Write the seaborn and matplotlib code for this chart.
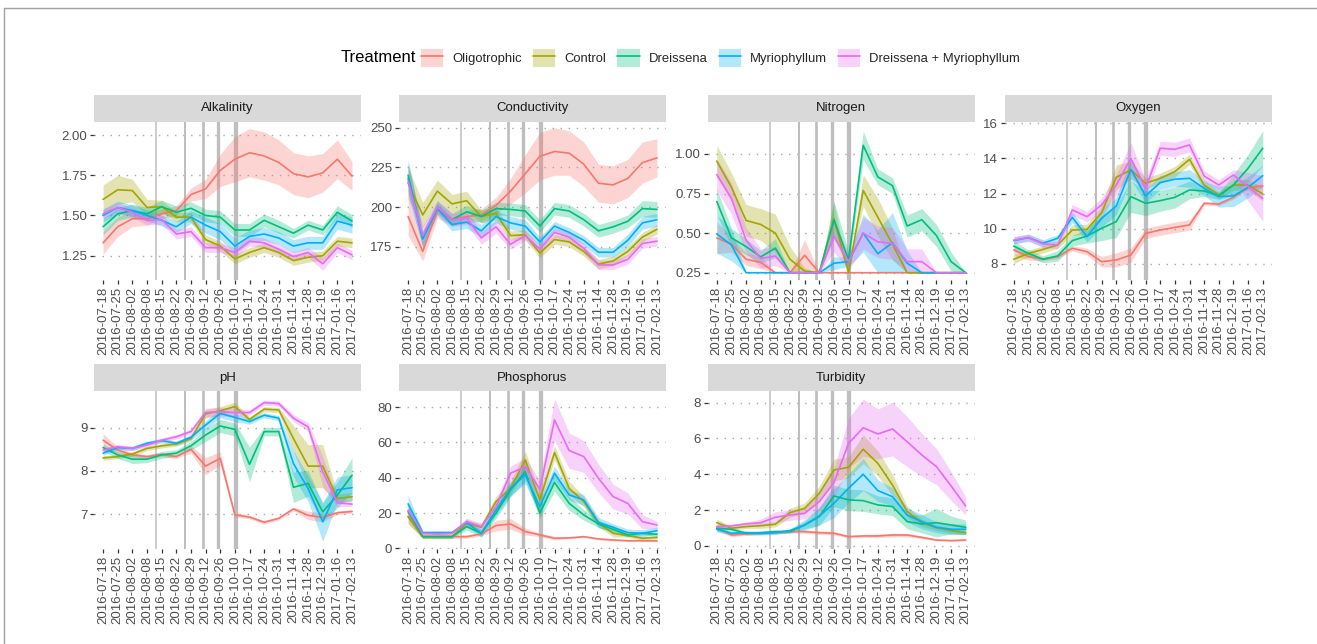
import numpy as np
import pandas as pd
import seaborn as sns
import matplotlib.pyplot as plt
from matplotlib.patches import Rectangle, Patch
from matplotlib.lines import Line2D

# sampling dates (plotted as evenly spaced categories)
dates = ["2016-07-18", "2016-07-25", "2016-08-02", "2016-08-08", "2016-08-15",
         "2016-08-22", "2016-08-29", "2016-09-12", "2016-09-26", "2016-10-10",
         "2016-10-17", "2016-10-24", "2016-10-31", "2016-11-14", "2016-11-28",
         "2016-12-19", "2017-01-16", "2017-02-13"]
treatments = ["Oligotrophic", "Control", "Dreissena", "Myriophyllum",
              "Dreissena + Myriophyllum"]
colors = ["#F8766D", "#A3A500", "#00BF7D", "#00B0F6", "#E76BF3"]

# treatment events (position on the category axis) and line widths
event_pos = [3.6, 5.6, 6.8, 7.85, 9.05]
event_lw = [1.1, 1.45, 1.95, 2.4, 3.1]

# means and ribbon half-widths per variable
alk_mean = {
    "Oligotrophic": [1.33, 1.43, 1.48, 1.48, 1.51, 1.53, 1.63, 1.665, 1.78, 1.85, 1.89, 1.87, 1.83, 1.76, 1.74, 1.765, 1.85, 1.745],
    "Control": [1.60, 1.66, 1.655, 1.55, 1.555, 1.49, 1.49, 1.35, 1.31, 1.23, 1.27, 1.30, 1.27, 1.22, 1.24, 1.25, 1.34, 1.33],
    "Dreissena": [1.43, 1.51, 1.53, 1.51, 1.555, 1.52, 1.545, 1.50, 1.49, 1.41, 1.41, 1.47, 1.43, 1.39, 1.44, 1.41, 1.52, 1.465],
    "Myriophyllum": [1.50, 1.55, 1.53, 1.50, 1.47, 1.43, 1.49, 1.44, 1.40, 1.31, 1.37, 1.385, 1.36, 1.31, 1.33, 1.33, 1.465, 1.44],
    "Dreissena + Myriophyllum": [1.51, 1.55, 1.52, 1.47, 1.475, 1.385, 1.40, 1.30, 1.30, 1.27, 1.34, 1.33, 1.29, 1.245, 1.27, 1.20, 1.30, 1.255],
}
alk_err = {
    "Oligotrophic": [0.07, 0.06, 0.05, 0.04, 0.03, 0.03, 0.04, 0.06, 0.10, 0.14, 0.15, 0.15, 0.14, 0.13, 0.13, 0.12, 0.12, 0.09],
    "Control": [0.09, 0.09, 0.07, 0.05, 0.04, 0.03, 0.03, 0.03, 0.03, 0.03, 0.03, 0.03, 0.03, 0.03, 0.03, 0.03, 0.03, 0.03],
    "Dreissena": [0.05, 0.04, 0.04, 0.04, 0.04, 0.04, 0.04, 0.04, 0.04, 0.04, 0.04, 0.04, 0.04, 0.03, 0.03, 0.03, 0.04, 0.04],
    "Myriophyllum": [0.04, 0.04, 0.035, 0.035, 0.035, 0.035, 0.04, 0.05, 0.05, 0.05, 0.04, 0.04, 0.04, 0.04, 0.04, 0.04, 0.05, 0.05],
    "Dreissena + Myriophyllum": [0.03, 0.03, 0.03, 0.03, 0.03, 0.03, 0.03, 0.03, 0.03, 0.03, 0.03, 0.03, 0.03, 0.03, 0.03, 0.04, 0.03, 0.03],
}

cond_mean = {
    "Oligotrophic": [194, 172, 198, 192, 194, 195, 201, 210, 221, 232, 235, 234, 227, 215, 214, 218, 228, 231],
    "Control": [215, 195, 210, 202, 204, 194, 196, 182, 182.5, 171, 179.5, 178, 172, 164, 166, 172, 181, 186],
    "Dreissena": [220, 180, 200, 192, 197, 194, 199, 198.5, 197.5, 188, 199, 197.5, 192, 185, 187.5, 191, 199, 198.5],
    "Myriophyllum": [218, 180, 199, 189, 190.5, 185, 194, 190, 188, 178, 188, 184, 179, 171.5, 171.5, 179, 190, 192],
    "Dreissena + Myriophyllum": [216, 182, 200, 192, 193, 180.5, 187.5, 176.5, 182, 173.5, 184, 181, 174, 163.5, 163.5, 167, 177, 178.5],
}
cond_err = {
    "Oligotrophic": [12, 6, 5, 4, 4, 4, 5, 8, 12, 15, 15, 14, 14, 12, 12, 12, 13, 12],
    "Control": [10, 8, 7, 6, 6, 4, 4, 3, 3, 3, 3, 3, 3, 3, 3, 3, 3, 3],
    "Dreissena": [10, 5, 4, 4, 4, 4, 4, 4, 4, 4, 4, 4, 4, 4, 4, 4, 5, 5],
    "Myriophyllum": [10, 5, 4, 4, 4, 4, 4, 4, 4, 3, 3, 3, 3, 3, 3, 4, 4, 4],
    "Dreissena + Myriophyllum": [10, 6, 4, 4, 4, 4, 4, 3, 3, 3, 3, 3, 3, 3, 3, 3, 3, 3],
}

nit_mean = {
    "Oligotrophic": [0.47, 0.43, 0.335, 0.315, 0.25, 0.25, 0.36, 0.25, 0.25, 0.25, 0.25, 0.25, 0.25, 0.25, 0.25, 0.25, 0.25, 0.25],
    "Control": [0.955, 0.79, 0.58, 0.555, 0.50, 0.335, 0.26, 0.25, 0.59, 0.25, 0.77, 0.60, 0.43, 0.25, 0.25, 0.25, 0.25, 0.25],
    "Dreissena": [0.70, 0.47, 0.415, 0.35, 0.405, 0.25, 0.25, 0.25, 0.585, 0.33, 1.055, 0.855, 0.80, 0.545, 0.585, 0.485, 0.32, 0.25],
    "Myriophyllum": [0.495, 0.425, 0.25, 0.25, 0.25, 0.25, 0.25, 0.25, 0.31, 0.32, 0.50, 0.37, 0.44, 0.31, 0.25, 0.25, 0.25, 0.25],
    "Dreissena + Myriophyllum": [0.87, 0.72, 0.455, 0.34, 0.355, 0.25, 0.25, 0.25, 0.48, 0.32, 0.50, 0.445, 0.435, 0.32, 0.32, 0.25, 0.25, 0.25],
}
nit_err = {
    "Oligotrophic": [0.10, 0.05, 0.04, 0.04, 0, 0, 0.10, 0, 0, 0, 0, 0, 0, 0, 0, 0, 0, 0],
    "Control": [0.10, 0.09, 0.10, 0.10, 0.12, 0.08, 0.02, 0, 0.10, 0, 0.10, 0.12, 0.10, 0, 0, 0, 0, 0],
    "Dreissena": [0.08, 0.06, 0.05, 0.04, 0.06, 0, 0, 0, 0.12, 0.05, 0.09, 0.05, 0.05, 0.07, 0.07, 0.07, 0.06, 0],
    "Myriophyllum": [0.12, 0.10, 0, 0, 0, 0, 0, 0, 0.04, 0.03, 0.12, 0.15, 0.19, 0.08, 0, 0, 0, 0],
    "Dreissena + Myriophyllum": [0.10, 0.10, 0.08, 0.06, 0.06, 0, 0, 0, 0.10, 0.05, 0.10, 0.10, 0.10, 0.08, 0.08, 0, 0, 0],
}

oxy_mean = {
    "Oligotrophic": [8.80, 8.42, 8.27, 8.42, 8.89, 8.70, 8.13, 8.23, 8.51, 9.74, 9.93, 10.08, 10.22, 11.45, 11.41, 11.79, 12.36, 12.44],
    "Control": [8.27, 8.60, 8.83, 9.08, 9.93, 9.97, 10.92, 12.93, 13.35, 12.59, 12.87, 13.25, 13.95, 12.49, 11.92, 12.49, 12.49, 11.98],
    "Dreissena": [9.02, 8.60, 8.27, 8.46, 9.33, 9.59, 10.03, 10.41, 11.83, 11.45, 11.60, 11.79, 12.21, 12.15, 11.87, 12.49, 13.44, 14.58],
    "Myriophyllum": [9.33, 9.50, 9.18, 9.46, 10.65, 9.55, 10.60, 11.30, 13.38, 11.87, 12.63, 12.82, 12.87, 12.30, 11.83, 11.87, 12.36, 13.02],
    "Dreissena + Myriophyllum": [9.36, 9.50, 9.14, 9.08, 11.07, 10.69, 11.36, 12.49, 14.00, 12.30, 14.58, 14.52, 14.77, 13.00, 12.49, 13.06, 12.40, 11.73],
}
oxy_err = {
    "Oligotrophic": [0.3, 0.2, 0.1, 0.1, 0.15, 0.2, 0.3, 0.4, 0.4, 0.3, 0.3, 0.3, 0.3, 0.1, 0.1, 0.1, 0.1, 0.1],
    "Control": [0.25, 0.2, 0.2, 0.2, 0.3, 0.3, 0.4, 0.7, 0.5, 0.3, 0.3, 0.3, 0.3, 0.3, 0.2, 0.3, 0.3, 0.4],
    "Dreissena": [0.3, 0.2, 0.2, 0.3, 0.3, 0.4, 0.7, 0.9, 0.9, 0.7, 0.6, 0.6, 0.5, 0.3, 0.2, 0.6, 0.8, 1.0],
    "Myriophyllum": [0.2, 0.2, 0.2, 0.2, 0.3, 0.3, 0.5, 0.5, 0.6, 0.4, 0.4, 0.4, 0.5, 0.4, 0.6, 0.6, 0.6, 0.6],
    "Dreissena + Myriophyllum": [0.2, 0.2, 0.2, 0.2, 0.3, 0.3, 0.4, 0.6, 0.9, 0.5, 0.4, 0.4, 0.4, 0.3, 0.3, 0.3, 0.8, 1.3],
}

ph_mean = {
    "Oligotrophic": [8.71, 8.48, 8.37, 8.33, 8.38, 8.33, 8.50, 8.11, 8.29, 6.98, 6.93, 6.81, 6.90, 7.12, 6.97, 6.92, 7.03, 7.06],
    "Control": [8.30, 8.33, 8.39, 8.52, 8.58, 8.62, 8.75, 9.32, 9.39, 9.49, 9.19, 9.43, 9.41, 8.75, 8.11, 8.11, 7.36, 7.40],
    "Dreissena": [8.54, 8.37, 8.27, 8.27, 8.37, 8.41, 8.58, 8.83, 9.04, 8.96, 8.15, 8.91, 8.91, 7.62, 7.71, 7.05, 7.44, 7.90],
    "Myriophyllum": [8.41, 8.54, 8.52, 8.64, 8.70, 8.64, 8.78, 9.06, 9.33, 9.24, 9.14, 9.29, 9.22, 8.17, 7.59, 6.82, 7.56, 7.61],
    "Dreissena + Myriophyllum": [8.48, 8.56, 8.52, 8.60, 8.71, 8.79, 8.91, 9.35, 9.37, 9.35, 9.35, 9.58, 9.56, 9.22, 9.02, 7.98, 7.26, 7.23],
}
ph_err = {
    "Oligotrophic": [0.15, 0.08, 0.05, 0.05, 0.05, 0.05, 0.08, 0.2, 0.15, 0.05, 0.04, 0.04, 0.04, 0.04, 0.1, 0.1, 0.04, 0.04],
    "Control": [0.05, 0.05, 0.05, 0.05, 0.05, 0.05, 0.06, 0.1, 0.1, 0.1, 0.06, 0.06, 0.06, 0.3, 0.5, 0.5, 0.1, 0.1],
    "Dreissena": [0.08, 0.08, 0.1, 0.08, 0.08, 0.08, 0.1, 0.15, 0.15, 0.15, 0.4, 0.1, 0.1, 0.35, 0.3, 0.2, 0.3, 0.4],
    "Myriophyllum": [0.05, 0.05, 0.05, 0.05, 0.05, 0.05, 0.06, 0.1, 0.1, 0.1, 0.06, 0.06, 0.06, 0.3, 0.3, 0.45, 0.3, 0.3],
    "Dreissena + Myriophyllum": [0.05, 0.05, 0.05, 0.05, 0.05, 0.05, 0.06, 0.1, 0.1, 0.1, 0.06, 0.06, 0.06, 0.08, 0.1, 0.35, 0.1, 0.05],
}

phos_mean = {
    "Oligotrophic": [18, 6.6, 6.6, 6.6, 6.6, 8.1, 12.9, 13.8, 9.5, 7.6, 5.7, 5.9, 6.6, 5.3, 4.7, 4.3, 4.3, 4.2],
    "Control": [18, 6.6, 6.6, 6.6, 14.2, 11.9, 26.5, 34, 50.1, 27.4, 54.3, 34, 26.5, 14.2, 8.5, 7.2, 5.7, 6.2],
    "Dreissena": [20.8, 6.6, 6.6, 6.6, 12.3, 8.5, 19.9, 33.1, 43.5, 19.9, 37.3, 25.5, 18.9, 13.8, 10.8, 7.6, 8.5, 7.9],
    "Myriophyllum": [25.2, 8.9, 8.9, 8.9, 14.6, 8.5, 21.7, 34, 41.6, 23.6, 42.6, 30.3, 27.4, 14.6, 11.9, 8.9, 8.5, 10.0],
    "Dreissena + Myriophyllum": [21.7, 8.5, 8.1, 8.5, 15.1, 12.3, 23.6, 42.6, 46.3, 33.5, 72.8, 55.4, 52, 39.7, 29.3, 25.5, 15.1, 13.2],
}
phos_err = {
    "Oligotrophic": [4, 1, 1, 1, 1, 1, 3, 3, 2, 1, 1, 0.5, 0.5, 0.5, 0.5, 0.5, 0.5, 0.5],
    "Control": [4, 1, 1, 1, 2, 2, 3, 4, 5, 4, 4, 4, 3, 2, 2, 1, 1, 1],
    "Dreissena": [4, 1, 1, 1, 2, 2, 3, 4, 5, 3, 5, 4, 3, 2, 2, 1, 1, 1],
    "Myriophyllum": [5, 1, 1, 1, 2, 2, 3, 4, 5, 4, 4, 3, 3, 3, 2, 2, 2, 2],
    "Dreissena + Myriophyllum": [4, 1, 1, 1, 2, 2, 3, 4, 5, 5, 12, 10, 9, 8, 7, 6, 4, 2],
}

turb_mean = {
    "Oligotrophic": [0.99, 0.61, 0.67, 0.71, 0.74, 0.80, 0.80, 0.74, 0.71, 0.52, 0.56, 0.56, 0.61, 0.61, 0.48, 0.33, 0.30, 0.33],
    "Control": [1.30, 0.99, 1.08, 1.13, 1.21, 1.86, 2.10, 2.94, 4.24, 4.39, 5.40, 4.61, 3.40, 1.92, 1.30, 1.02, 0.86, 0.74],
    "Dreissena": [0.99, 0.93, 0.71, 0.74, 0.80, 0.80, 1.17, 1.64, 2.79, 2.57, 2.53, 2.29, 2.20, 1.36, 1.23, 1.30, 1.17, 1.04],
    "Myriophyllum": [0.93, 0.71, 0.74, 0.71, 0.74, 0.86, 1.17, 1.67, 2.38, 3.22, 4.00, 3.09, 2.75, 1.73, 1.36, 1.04, 0.93, 0.93],
    "Dreissena + Myriophyllum": [1.08, 1.12, 1.23, 1.30, 1.60, 1.73, 1.82, 2.47, 3.53, 5.73, 6.60, 6.25, 6.53, 5.82, 5.08, 4.43, 3.35, 2.23],
}
turb_err = {
    "Oligotrophic": [0.15, 0.1, 0.08, 0.08, 0.08, 0.08, 0.1, 0.1, 0.1, 0.08, 0.08, 0.1, 0.1, 0.1, 0.08, 0.05, 0.05, 0.05],
    "Control": [0.2, 0.1, 0.1, 0.15, 0.15, 0.25, 0.3, 0.4, 0.6, 0.6, 0.8, 0.7, 0.6, 0.3, 0.2, 0.15, 0.15, 0.1],
    "Dreissena": [0.15, 0.1, 0.1, 0.1, 0.1, 0.1, 0.2, 0.5, 0.6, 0.6, 0.6, 0.5, 0.5, 0.4, 0.5, 0.8, 0.5, 0.4],
    "Myriophyllum": [0.15, 0.1, 0.1, 0.1, 0.1, 0.1, 0.3, 0.5, 0.8, 0.8, 0.9, 0.6, 0.5, 0.4, 0.4, 0.3, 0.3, 0.3],
    "Dreissena + Myriophyllum": [0.15, 0.1, 0.1, 0.2, 0.3, 0.3, 0.3, 0.5, 0.8, 1.4, 1.6, 1.4, 1.5, 1.4, 1.2, 1.0, 0.8, 0.5],
}

# name, means, errors, y limits, y ticks, tick format, lower floor
panels = [
    ("Alkalinity", alk_mean, alk_err, (1.099, 2.083), [1.25, 1.50, 1.75, 2.00], "{:.2f}", None),
    ("Conductivity", cond_mean, cond_err, (154.0, 253.8), [175, 200, 225, 250], "{:.0f}", None),
    ("Nitrogen", nit_mean, nit_err, (0.204, 1.204), [0.25, 0.50, 0.75, 1.00], "{:.2f}", 0.25),
    ("Oxygen", oxy_mean, oxy_err, (7.09, 16.09), [8, 10, 12, 14, 16], "{:.0f}", None),
    ("pH", ph_mean, ph_err, (6.19, 9.85), [7, 8, 9], "{:.0f}", None),
    ("Phosphorus", phos_mean, phos_err, (-0.4, 89.2), [0, 20, 40, 60, 80], "{:.0f}", None),
    ("Turbidity", turb_mean, turb_err, (-0.17, 8.65), [0, 2, 4, 6, 8], "{:.0f}", None),
]

sns.set_theme(style="white")
plt.rcParams['font.family'] = ['Liberation Sans', 'DejaVu Sans']

W, H = 1317, 644
fig = plt.figure(figsize=(W / 100, H / 100), dpi=100)

col_left = [94.3, 399.3, 708, 1005]
panel_w = 266.5
rows = [(121.7, 280.0), (391.0, 549.0)]
strip_h = 26.7
palette = dict(zip(treatments, colors))
x = np.arange(len(dates))

for k, (name, mean, err, ylim, yticks, fmt, floor) in enumerate(panels):
    r, c = divmod(k, 4)
    top, bot = rows[r]
    ax = fig.add_axes([col_left[c] / W, 1 - bot / H, panel_w / W, (bot - top) / H])

    for t in treatments:
        m = np.array(mean[t])
        e = np.array(err[t])
        lo = m - e
        if floor is not None:
            lo = np.maximum(lo, floor)
        ax.fill_between(x, lo, m + e, color=palette[t], alpha=0.3, lw=0, zorder=2)

    df = pd.DataFrame({
        "idx": np.tile(x, len(treatments)),
        "value": np.concatenate([mean[t] for t in treatments]),
        "Treatment": np.repeat(treatments, len(dates)),
    })
    sns.lineplot(data=df, x="idx", y="value", hue="Treatment", hue_order=treatments,
                 palette=palette, ax=ax, legend=False, lw=1.2, errorbar=None, zorder=3)

    for p, w in zip(event_pos, event_lw):
        ax.axvline(p, color="#bebebe", lw=w, zorder=1.5)

    ax.set_xlim(-0.6, len(dates) - 0.4)
    ax.set_ylim(*ylim)
    ax.set_xticks(x)
    ax.set_xticklabels(dates, rotation=90)
    ax.set_yticks(yticks)
    ax.set_yticklabels([fmt.format(v) for v in yticks])
    ax.set_xlabel("")
    ax.set_ylabel("")
    ax.grid(False)
    ax.yaxis.grid(True, color="#a8a8a8", lw=1.0, linestyle=(0, (1, 4.8)))
    ax.set_axisbelow(True)
    for s in ax.spines.values():
        s.set_visible(False)
    ax.tick_params(axis="both", bottom=True, left=True, length=3, width=0.9,
                   color="#333333", labelsize=9.5, labelcolor="#4d4d4d", pad=2)

    # facet strip
    h = strip_h / (bot - top)
    ax.add_patch(Rectangle((0, 1), 1, h, transform=ax.transAxes, facecolor="#d9d9d9",
                           edgecolor="none", clip_on=False))
    ax.text(0.5, 1 + h / 2, name, transform=ax.transAxes, ha="center", va="center",
            fontsize=9.5, color="#1a1a1a")

# legend on top
fig.text(341 / W, 1 - 58 / H, "Treatment", ha="left", va="center", fontsize=12, color="black")
handles = [(Patch(facecolor=col, alpha=0.3, edgecolor="none"), Line2D([], [], color=col, lw=1.2))
           for col in colors]
fig.legend(handles, treatments, loc="center left", bbox_to_anchor=(421 / W, 1 - 58 / H),
           ncol=5, frameon=False, fontsize=9.4, handlelength=1.7, handleheight=1.7,
           handletextpad=0.7, columnspacing=0.85, borderaxespad=0, borderpad=0)

# thin frame lines at top and left edge
fig.add_artist(Line2D([4 / W, 1], [1 - 8 / H, 1 - 8 / H], transform=fig.transFigure,
                      color="#a0a0a0", lw=1))
fig.add_artist(Line2D([4 / W, 4 / W], [0, 1 - 8 / H], transform=fig.transFigure,
                      color="#a0a0a0", lw=1))

fig.savefig("out.png", dpi=100, facecolor="white")
